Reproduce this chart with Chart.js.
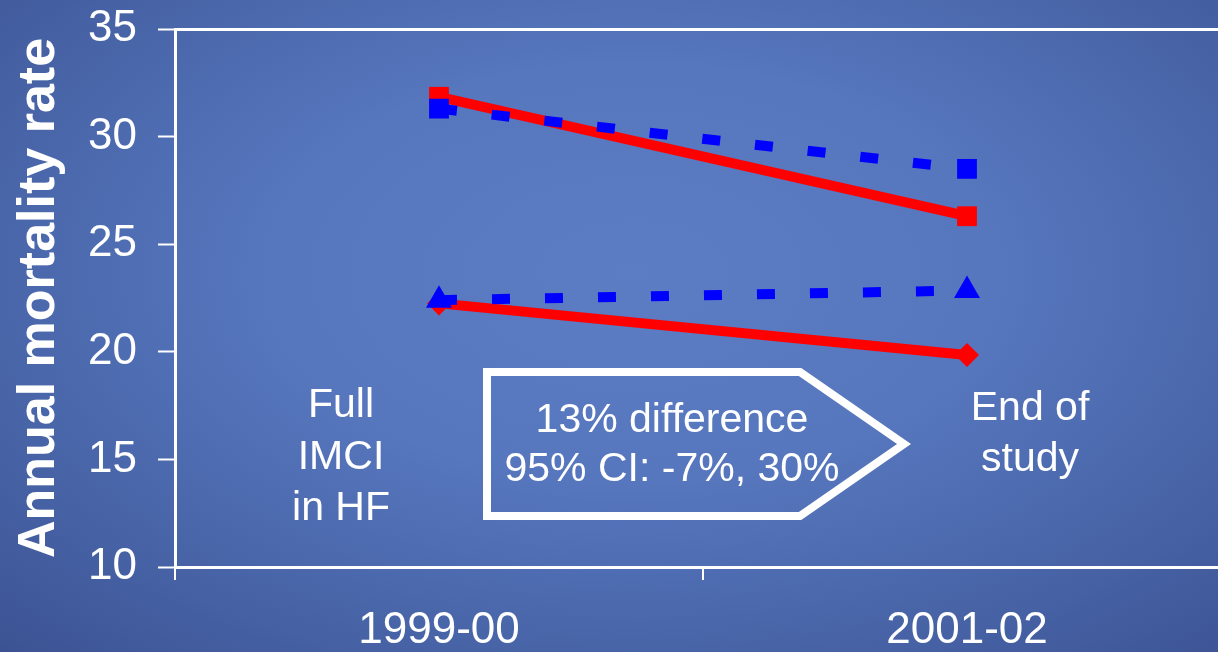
<!DOCTYPE html>
<html>
<head>
<meta charset="utf-8">
<script src="https://cdn.jsdelivr.net/npm/chart.js@4/dist/chart.umd.min.js"></script>
<style>
    html, body { margin: 0; padding: 0; overflow: hidden; }
    body {
        width: 1218px;
        height: 652px;
        background: radial-gradient(ellipse 75% 80% at 52% 42%, #5c7dc4 0%, #5676bd 40%, #4763a6 75%, #3c5393 100%);
    }
    .wrap { position: relative; width: 1246px; height: 652px; }
</style>
</head>
<body>
<div class="wrap"><canvas id="mortChart"></canvas></div>
<script>
// ─── Data ───
const categories = ['1999-00', '2001-02'];
const redSquare = [31.85, 26.3];
const blueSquare = [31.3, 28.5];
const blueTriangle = [22.4, 22.85];
const redDiamond = [22.25, 19.85];
const yTicks = [10, 15, 20, 25, 30, 35];

const FONT = "'Liberation Sans', Arial, sans-serif";
const RED = '#ff0000';
const BLUE = '#0000ff';

// ─── Text boxes on the slide ───
const annotations = {
    id: 'annotations',
    afterDatasetsDraw(chart) {
        const c = chart.ctx;
        c.save();

        // arrow-shaped box
        c.strokeStyle = '#fff';
        c.lineWidth = 8;
        c.lineJoin = 'miter';
        c.beginPath();
        c.moveTo(487, 372);
        c.lineTo(800, 372);
        c.lineTo(904, 444);
        c.lineTo(800, 516);
        c.lineTo(487, 516);
        c.closePath();
        c.stroke();

        c.fillStyle = '#fff';
        c.font = '41px ' + FONT;
        c.textAlign = 'center';
        c.textBaseline = 'middle';

        c.fillText('13% difference', 672, 421);
        c.fillText('95% CI: -7%, 30%', 672, 470);

        c.fillText('Full', 341, 406);
        c.fillText('IMCI', 341, 458);
        c.fillText('in HF', 341, 509);

        c.fillText('End of', 1030, 409);
        c.fillText('study', 1030, 460);

        c.restore();
    }
};

const ctx = document.getElementById('mortChart').getContext('2d');
new Chart(ctx, {
    type: 'line',
    data: {
        labels: categories,
        datasets: [
            {
                data: blueSquare,
                borderColor: BLUE,
                backgroundColor: BLUE,
                borderWidth: 10,
                borderDash: [18, 35],
                pointStyle: 'rect',
                pointRadius: 14,
                pointBorderWidth: 0,
                order: 1
            },
            {
                data: blueTriangle,
                borderColor: BLUE,
                backgroundColor: BLUE,
                borderWidth: 10,
                borderDash: [18, 35],
                pointStyle: 'triangle',
                pointRadius: 15,
                pointBorderWidth: 0,
                order: 1
            },
            {
                data: redSquare,
                borderColor: RED,
                backgroundColor: RED,
                borderWidth: 10,
                pointStyle: 'rect',
                pointRadius: 14,
                pointBorderWidth: 0,
                order: 2
            },
            {
                data: redDiamond,
                borderColor: RED,
                backgroundColor: RED,
                borderWidth: 10,
                pointStyle: 'rectRot',
                pointRadius: 12,
                pointBorderWidth: 0,
                order: 2
            }
        ]
    },
    options: {
        responsive: true,
        maintainAspectRatio: false,
        animation: false,
        events: [],
        layout: { padding: { left: 0, top: 29, right: 9, bottom: 0 } },
        scales: {
            x: {
                offset: true,
                grid: {
                    offset: true,
                    drawOnChartArea: false,
                    tickLength: 13,
                    tickColor: '#fff',
                    lineWidth: 2
                },
                border: { color: '#fff', width: 3 },
                ticks: {
                    color: '#fff',
                    padding: 24,
                    maxRotation: 0,
                    font: { family: FONT, size: 44 }
                },
                afterFit: s => {
                    s.height = 85;
                    s.paddingLeft = 0;
                    s.paddingRight = 0;
                }
            },
            y: {
                min: 10,
                max: 35,
                afterBuildTicks: s => { s.ticks = yTicks.map(v => ({ value: v })); },
                grid: {
                    color: c => (c.tick && c.tick.value === 35 ? '#fff' : 'rgba(0,0,0,0)'),
                    lineWidth: 3,
                    tickLength: 17,
                    tickColor: '#fff',
                    tickWidth: 2
                },
                border: { color: '#fff', width: 3 },
                ticks: {
                    color: '#fff',
                    padding: 21,
                    font: { family: FONT, size: 44 }
                },
                title: {
                    display: true,
                    text: 'Annual mortality rate',
                    color: '#fff',
                    padding: { top: 8, bottom: 0 },
                    font: { family: FONT, size: 52, weight: 'bold' }
                },
                afterFit: s => {
                    s.width = 175;
                    s.paddingTop = 0;
                    s.paddingBottom = 0;
                }
            }
        },
        plugins: {
            legend: { display: false },
            tooltip: { enabled: false }
        }
    },
    plugins: [annotations]
});
</script>
</body>
</html>
